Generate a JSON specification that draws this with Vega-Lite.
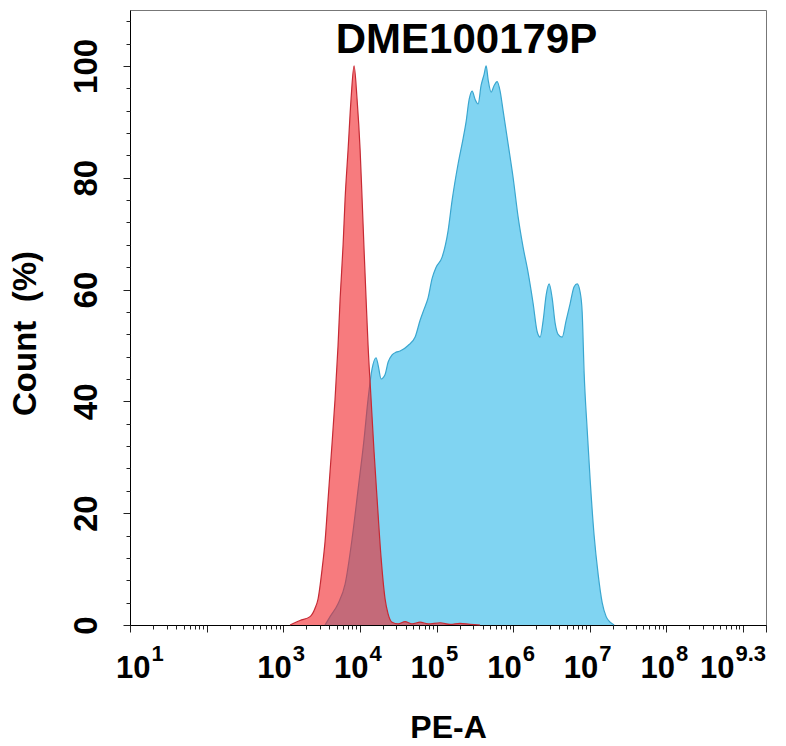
{
  "$schema": "https://vega.github.io/schema/vega-lite/v6.json",
  "width": 636,
  "height": 615,
  "autosize": {"type": "none"},
  "padding": {"left": 130, "top": 10, "right": 20, "bottom": 121},
  "background": "#ffffff",
  "config": {
    "font": "Liberation Sans",
    "view": {"stroke": "#777777", "strokeWidth": 1},
    "axis": {"grid": false, "labelFont": "Liberation Sans", "titleFont": "Liberation Sans", "labelColor": "#000", "titleColor": "#000", "tickColor": "#222", "domainColor": "#000"}
  },
  "datasets": {
    "blue": [
      {"pe_a_log10": 3.546, "count": 0},
      {"pe_a_log10": 3.611, "count": 1.5},
      {"pe_a_log10": 3.715, "count": 3.8},
      {"pe_a_log10": 3.807, "count": 7.3},
      {"pe_a_log10": 3.898, "count": 15.4},
      {"pe_a_log10": 3.977, "count": 24.3},
      {"pe_a_log10": 4.055, "count": 33.3},
      {"pe_a_log10": 4.107, "count": 40.4},
      {"pe_a_log10": 4.159, "count": 45.8},
      {"pe_a_log10": 4.211, "count": 47.8},
      {"pe_a_log10": 4.238, "count": 46.5},
      {"pe_a_log10": 4.277, "count": 44},
      {"pe_a_log10": 4.329, "count": 44.8},
      {"pe_a_log10": 4.368, "count": 47},
      {"pe_a_log10": 4.42, "count": 48.3},
      {"pe_a_log10": 4.473, "count": 48.8},
      {"pe_a_log10": 4.525, "count": 49},
      {"pe_a_log10": 4.629, "count": 50},
      {"pe_a_log10": 4.721, "count": 51.5},
      {"pe_a_log10": 4.786, "count": 54.5},
      {"pe_a_log10": 4.838, "count": 56.5},
      {"pe_a_log10": 4.89, "count": 58.5},
      {"pe_a_log10": 4.943, "count": 62},
      {"pe_a_log10": 4.995, "count": 64},
      {"pe_a_log10": 5.073, "count": 65.8},
      {"pe_a_log10": 5.151, "count": 70.5},
      {"pe_a_log10": 5.204, "count": 76},
      {"pe_a_log10": 5.282, "count": 82.5},
      {"pe_a_log10": 5.347, "count": 87},
      {"pe_a_log10": 5.386, "count": 90},
      {"pe_a_log10": 5.426, "count": 94},
      {"pe_a_log10": 5.465, "count": 95.5},
      {"pe_a_log10": 5.504, "count": 94},
      {"pe_a_log10": 5.543, "count": 93.2},
      {"pe_a_log10": 5.582, "count": 96.5},
      {"pe_a_log10": 5.621, "count": 98.5},
      {"pe_a_log10": 5.648, "count": 100},
      {"pe_a_log10": 5.674, "count": 97.5},
      {"pe_a_log10": 5.713, "count": 95.3},
      {"pe_a_log10": 5.752, "count": 96.5},
      {"pe_a_log10": 5.791, "count": 97.2},
      {"pe_a_log10": 5.83, "count": 95.5},
      {"pe_a_log10": 5.869, "count": 92},
      {"pe_a_log10": 5.935, "count": 86},
      {"pe_a_log10": 6.0, "count": 80},
      {"pe_a_log10": 6.065, "count": 73},
      {"pe_a_log10": 6.131, "count": 67.5},
      {"pe_a_log10": 6.196, "count": 63},
      {"pe_a_log10": 6.261, "count": 57.5},
      {"pe_a_log10": 6.313, "count": 52.5},
      {"pe_a_log10": 6.352, "count": 51.5},
      {"pe_a_log10": 6.392, "count": 54.5},
      {"pe_a_log10": 6.431, "count": 59},
      {"pe_a_log10": 6.47, "count": 61},
      {"pe_a_log10": 6.509, "count": 58.5},
      {"pe_a_log10": 6.548, "count": 54},
      {"pe_a_log10": 6.587, "count": 52},
      {"pe_a_log10": 6.64, "count": 51.5},
      {"pe_a_log10": 6.692, "count": 54.5},
      {"pe_a_log10": 6.744, "count": 57.5},
      {"pe_a_log10": 6.796, "count": 60.5},
      {"pe_a_log10": 6.836, "count": 61},
      {"pe_a_log10": 6.875, "count": 59.5},
      {"pe_a_log10": 6.901, "count": 56},
      {"pe_a_log10": 6.927, "count": 45},
      {"pe_a_log10": 6.966, "count": 35},
      {"pe_a_log10": 7.005, "count": 26},
      {"pe_a_log10": 7.057, "count": 16},
      {"pe_a_log10": 7.11, "count": 9},
      {"pe_a_log10": 7.162, "count": 4},
      {"pe_a_log10": 7.214, "count": 1.5},
      {"pe_a_log10": 7.266, "count": 0.5},
      {"pe_a_log10": 7.319, "count": 0}
    ],
    "red": [
      {"pe_a_log10": 3.089, "count": 0},
      {"pe_a_log10": 3.219, "count": 0.8},
      {"pe_a_log10": 3.35, "count": 1.5},
      {"pe_a_log10": 3.415, "count": 3},
      {"pe_a_log10": 3.454, "count": 4.65},
      {"pe_a_log10": 3.507, "count": 10},
      {"pe_a_log10": 3.546, "count": 15},
      {"pe_a_log10": 3.585, "count": 22.5},
      {"pe_a_log10": 3.624, "count": 30},
      {"pe_a_log10": 3.676, "count": 40.4},
      {"pe_a_log10": 3.715, "count": 50},
      {"pe_a_log10": 3.742, "count": 58.3},
      {"pe_a_log10": 3.781, "count": 68},
      {"pe_a_log10": 3.807, "count": 76.2},
      {"pe_a_log10": 3.846, "count": 85},
      {"pe_a_log10": 3.885, "count": 94.1},
      {"pe_a_log10": 3.924, "count": 100},
      {"pe_a_log10": 3.963, "count": 94.1},
      {"pe_a_log10": 4.003, "count": 85},
      {"pe_a_log10": 4.029, "count": 76.2},
      {"pe_a_log10": 4.055, "count": 67},
      {"pe_a_log10": 4.081, "count": 58.3},
      {"pe_a_log10": 4.107, "count": 50},
      {"pe_a_log10": 4.146, "count": 40.4},
      {"pe_a_log10": 4.185, "count": 31},
      {"pe_a_log10": 4.225, "count": 22.5},
      {"pe_a_log10": 4.277, "count": 12},
      {"pe_a_log10": 4.329, "count": 4.65},
      {"pe_a_log10": 4.368, "count": 2},
      {"pe_a_log10": 4.42, "count": 0.5},
      {"pe_a_log10": 4.499, "count": 0.2},
      {"pe_a_log10": 4.59, "count": 0.6},
      {"pe_a_log10": 4.681, "count": 0.2},
      {"pe_a_log10": 4.786, "count": 0.5},
      {"pe_a_log10": 4.89, "count": 0.2},
      {"pe_a_log10": 5.047, "count": 0.4},
      {"pe_a_log10": 5.178, "count": 0.1},
      {"pe_a_log10": 5.308, "count": 0.3},
      {"pe_a_log10": 5.439, "count": 0.1},
      {"pe_a_log10": 5.569, "count": 0}
    ]
  },
  "resolve": {"axis": {"x": "independent", "y": "independent"}},
  "layer": [
    {
      "data": {"name": "blue"},
      "mark": {"type": "area", "interpolate": "monotone", "color": "#80d4f2", "opacity": 1},
      "encoding": {
        "x": {
          "field": "pe_a_log10", "type": "quantitative",
          "scale": {"domain": [1, 9.3], "nice": false, "zero": false},
          "axis": {
            "orient": "bottom",
            "title": "PE-A",
            "titleFontSize": 32,
            "titleFontWeight": "bold",
            "titleBaseline": "alphabetic",
            "titleY": 112,
            "values": [1, 2, 3, 4, 5, 6, 7, 8, 9, 9.3],
            "labelExpr": "(datum.value == 2 || datum.value == 9) ? '' : '10'",
            "labelFontSize": 31,
            "labelFontWeight": "bold",
            "labelAlign": "right",
            "labelBaseline": "alphabetic",
            "labelPadding": 45,
            "labelOffset": {"condition": [{"test": "datum.value == 1", "value": 20}, {"test": "datum.value > 9.1", "value": -32}], "value": 8},
            "labelFlush": false,
            "labelOverlap": false,
            "labelBound": false,
            "tickSize": 7,
            "tickWidth": 1,
            "domainWidth": 1
          }
        },
        "y": {
          "field": "count", "type": "quantitative",
          "scale": {"domain": [0, 110], "nice": false, "zero": true},
          "axis": {
            "orient": "left",
            "title": "Count\u00a0\u00a0(%)",
            "titleFontSize": 33,
            "titleFontWeight": "bold",
            "titleAngle": 270,
            "titleAlign": "center",
            "titleBaseline": "alphabetic",
            "titleX": -95,
            "titleY": 323,
            "values": [0, 20, 40, 60, 80, 100],
            "labelFontSize": 33,
            "labelFontWeight": "bold",
            "labelAngle": 270,
            "labelAlign": "center",
            "labelBaseline": "alphabetic",
            "labelPadding": 27,
            "labelOverlap": false,
            "labelFlush": false,
            "tickSize": 7,
            "domainWidth": 1
          }
        }
      }
    },
    {
      "data": {"name": "blue"},
      "mark": {"type": "line", "interpolate": "monotone", "color": "#3aa6cf", "strokeWidth": 1.2},
      "encoding": {
        "x": {
          "field": "pe_a_log10", "type": "quantitative",
          "axis": {
            "orient": "bottom",
            "title": null,
            "values": [1, 3, 4, 5, 6, 7, 8, 9.3],
            "labelExpr": "datum.value > 9.1 ? '9.3' : format(datum.value, 'd')",
            "labelFontSize": 22,
            "labelFontWeight": "bold",
            "labelAlign": "left",
            "labelBaseline": "alphabetic",
            "labelPadding": 35,
            "labelOffset": {"condition": [{"test": "datum.value == 1", "value": 21}, {"test": "datum.value > 9.1", "value": -31}], "value": 9},
            "labelFlush": false,
            "labelOverlap": false,
            "labelBound": false,
            "ticks": false,
            "domain": false
          }
        },
        "y": {"field": "count", "type": "quantitative", "axis": null}
      }
    },
    {
      "data": {"name": "red"},
      "mark": {"type": "area", "interpolate": "monotone", "color": "#f22328", "opacity": 0.6},
      "encoding": {
        "x": {
          "field": "pe_a_log10", "type": "quantitative",
          "axis": {
            "orient": "bottom",
            "title": null,
            "labels": false,
            "domain": false,
            "tickSize": 4,
            "values": [1.301, 1.477, 1.602, 1.699, 1.778, 1.845, 1.903, 1.954,
                       2.301, 2.477, 2.602, 2.699, 2.778, 2.845, 2.903, 2.954,
                       3.301, 3.477, 3.602, 3.699, 3.778, 3.845, 3.903, 3.954,
                       4.301, 4.477, 4.602, 4.699, 4.778, 4.845, 4.903, 4.954,
                       5.301, 5.477, 5.602, 5.699, 5.778, 5.845, 5.903, 5.954,
                       6.301, 6.477, 6.602, 6.699, 6.778, 6.845, 6.903, 6.954,
                       7.301, 7.477, 7.602, 7.699, 7.778, 7.845, 7.903, 7.954,
                       8.301, 8.477, 8.602, 8.699, 8.778, 8.845, 8.903, 8.954]
          }
        },
        "y": {
          "field": "count", "type": "quantitative",
          "axis": {
            "orient": "left",
            "title": null,
            "labels": false,
            "domain": false,
            "tickSize": 4,
            "values": [4, 8, 12, 16, 24, 28, 32, 36, 44, 48, 52, 56, 64, 68, 72, 76, 84, 88, 92, 96, 104, 108]
          }
        }
      }
    },
    {
      "data": {"name": "red"},
      "mark": {"type": "line", "interpolate": "monotone", "color": "#c62a34", "strokeWidth": 1.2},
      "encoding": {
        "x": {
          "field": "pe_a_log10", "type": "quantitative",
          "axis": {
            "orient": "top",
            "title": "DME100179P",
            "titleFontSize": 42,
            "titleFontWeight": "bold",
            "titleAlign": "center",
            "titleBaseline": "alphabetic",
            "titleX": 336,
            "titleY": 42,
            "labels": false,
            "ticks": false,
            "domain": false,
            "values": []
          }
        },
        "y": {"field": "count", "type": "quantitative", "axis": null}
      }
    }
  ]
}
